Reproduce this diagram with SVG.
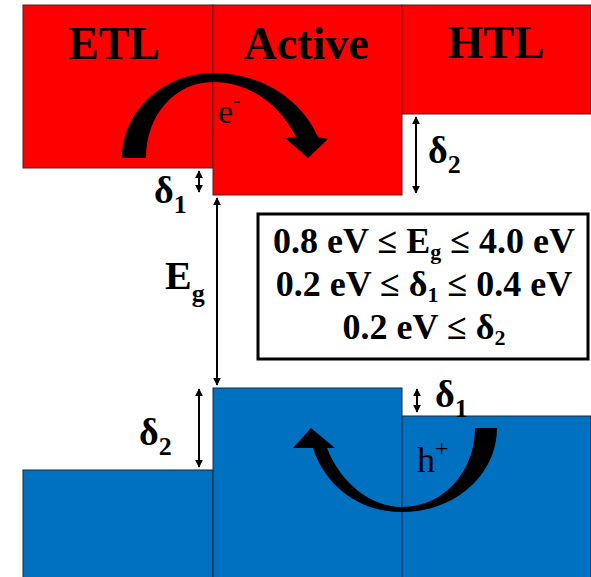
<svg xmlns="http://www.w3.org/2000/svg" width="591" height="577" viewBox="0 0 591 577">
<style>
.red{fill:#FF0000;stroke:#5a1a1a;stroke-width:1}
.blue{fill:#0070C0;stroke:#1a2a3a;stroke-width:1}
.t{font-family:"Liberation Serif","Times New Roman",serif;fill:#000}
.b{font-weight:bold}
.dim{stroke:#000;stroke-width:2;fill:none;marker-start:url(#ah);marker-end:url(#ah)}
</style>
<defs>
<marker id="ah" viewBox="0 0 10 10" refX="9" refY="5" markerWidth="4" markerHeight="4" orient="auto-start-reverse" markerUnits="strokeWidth">
<path d="M0,0 L10,5 L0,10 Z" fill="#000"/>
</marker>
</defs>
<rect x="0" y="0" width="591" height="577" fill="#fff"/>
<g id="etl-cb"><rect class="red" x="23" y="5" width="190" height="163"/></g>
<g id="active-cb"><rect class="red" x="213" y="5" width="189" height="190"/></g>
<g id="htl-cb"><rect class="red" x="402" y="5" width="189" height="109"/></g>
<g id="etl-vb"><rect class="blue" x="23" y="470" width="190" height="108"/></g>
<g id="active-vb"><rect class="blue" x="213" y="388" width="189" height="190"/></g>
<g id="htl-vb"><rect class="blue" x="402" y="416" width="189" height="162"/></g>
<g id="labels">
<text class="t b" x="114" y="59" font-size="46" text-anchor="middle">ETL</text>
<text class="t b" x="306" y="59" font-size="46" text-anchor="middle">Active</text>
<text class="t b" x="496" y="58" font-size="46" text-anchor="middle">HTL</text>
<text class="t" x="218" y="123" font-size="34">e<tspan dy="-16" font-size="22">-</tspan></text>
<text class="t" x="417" y="472" font-size="36">h<tspan dy="-16" font-size="24">+</tspan></text>
</g>
<g id="e-arrow">
<path d="M122,158 C122,110 165,73 213,73 C262,73 302,100 318,137 L328,139 L308,158 L285,138 L296,137 C280,105 250,82 213,82 C175,82 146,115 146,158 Z" fill="#000"/>
</g>
<g id="h-arrow">
<path d="M497,428 C497,475 455,512 402,512 C358,512 325,485 313,448 L293,448 L311,428 L335,448 L327,448 C340,482 370,507 402,507 C445,507 475,470 475,428 Z" fill="#000"/>
</g>
<g id="connectors">
<line class="dim" x1="199" y1="171" x2="199" y2="192"/>
<line class="dim" x1="217" y1="198" x2="217" y2="385"/>
<line class="dim" x1="199" y1="389" x2="199" y2="467"/>
<line class="dim" x1="417" y1="389" x2="417" y2="412"/>
<line class="dim" x1="416" y1="117" x2="416" y2="193"/>
</g>
<g id="dim-labels">
<text class="t b" x="154" y="203" font-size="38">δ<tspan dy="10" font-size="26">1</tspan></text>
<text class="t b" x="165" y="289" font-size="40">E<tspan dy="13" font-size="26">g</tspan></text>
<text class="t b" x="139" y="445" font-size="38">δ<tspan dy="10" font-size="26">2</tspan></text>
<text class="t b" x="435" y="407" font-size="38">δ<tspan dy="10" font-size="26">1</tspan></text>
<text class="t b" x="428" y="163" font-size="38">δ<tspan dy="10" font-size="26">2</tspan></text>
</g>
<g id="constraints">
<rect x="258" y="214" width="330" height="145" fill="#fff" stroke="#000" stroke-width="3"/>
<text class="t b" x="424" y="253" font-size="36" text-anchor="middle">0.8 eV ≤ E<tspan dy="6" font-size="22">g</tspan><tspan dy="-6"> ≤ 4.0 eV</tspan></text>
<text class="t b" x="424" y="296" font-size="36" text-anchor="middle">0.2 eV ≤ δ<tspan dy="6" font-size="22">1</tspan><tspan dy="-6"> ≤ 0.4 eV</tspan></text>
<text class="t b" x="424" y="339" font-size="36" text-anchor="middle">0.2 eV ≤ δ<tspan dy="6" font-size="22">2</tspan></text>
</g>
</svg>
